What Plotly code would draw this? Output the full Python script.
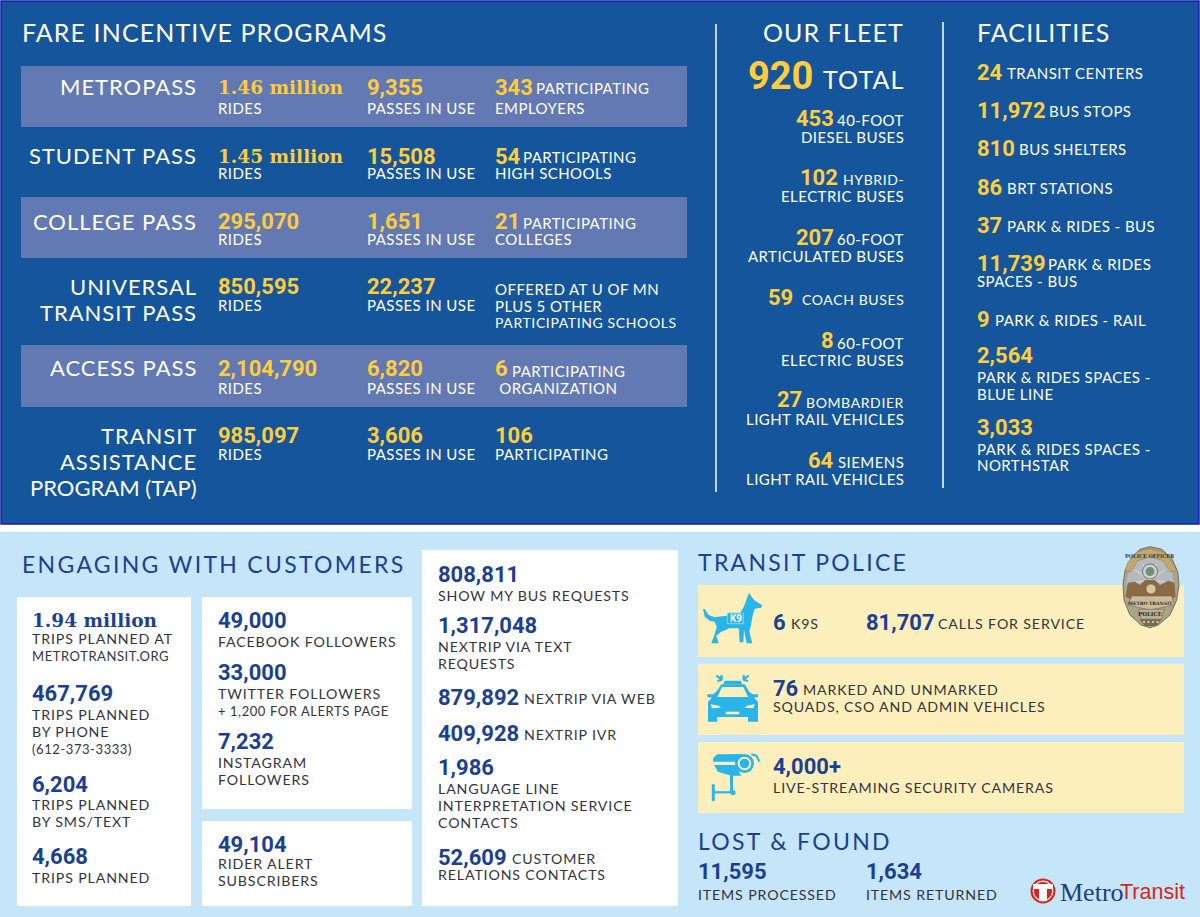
import plotly.graph_objects as go

# top panel text
fare_title = "FARE INCENTIVE PROGRAMS"
program_names = [["METROPASS"], ["STUDENT PASS"], ["COLLEGE PASS"],
                 ["UNIVERSAL", "TRANSIT PASS"], ["ACCESS PASS"],
                 ["TRANSIT", "ASSISTANCE", "PROGRAM (TAP)"]]
program_rides = ["1.46 million", "1.45 million", "295,070", "850,595", "2,104,790", "985,097"]
program_passes = ["9,355", "15,508", "1,651", "22,237", "6,820", "3,606"]
partner_counts = ["343", "54", "21", "", "6", "106"]
partner_first = ["PARTICIPATING", "PARTICIPATING", "PARTICIPATING", "OFFERED AT U OF MN", "PARTICIPATING", ""]
partner_rest = [["EMPLOYERS"], ["HIGH SCHOOLS"], ["COLLEGES"],
                ["PLUS 5 OTHER", "PARTICIPATING SCHOOLS"], [" ORGANIZATION"], ["PARTICIPATING"]]

fleet_total = "920"
fleet_counts = ["453", "102", "207", "59", "8", "27", "64"]
fleet_first = ["40-FOOT", "HYBRID-", "60-FOOT", "COACH BUSES", "60-FOOT", "BOMBARDIER", "SIEMENS"]
fleet_second = ["DIESEL BUSES", "ELECTRIC BUSES", "ARTICULATED BUSES", "", "ELECTRIC BUSES",
                "LIGHT RAIL VEHICLES", "LIGHT RAIL VEHICLES"]

facility_counts = ["24", "11,972", "810", "86", "37", "11,739", "9", "2,564", "3,033"]
facility_first = ["TRANSIT CENTERS", "BUS STOPS", "BUS SHELTERS", "BRT STATIONS", "PARK & RIDES - BUS",
                  "PARK & RIDES", "PARK & RIDES - RAIL", "", ""]
facility_rest = [[], [], [], [], [], ["SPACES - BUS"], [],
                 ["PARK & RIDES SPACES -", "BLUE LINE"], ["PARK & RIDES SPACES -", "NORTHSTAR"]]

# bottom panel text
trip_counts = ["1.94 million", "467,769", "6,204", "4,668"]
trip_labels = [["TRIPS PLANNED AT", "METROTRANSIT.ORG"], ["TRIPS PLANNED", "BY PHONE", "(612-373-3333)"],
               ["TRIPS PLANNED", "BY SMS/TEXT"], ["TRIPS PLANNED"]]
social_counts = ["49,000", "33,000", "7,232", "49,104"]
social_labels = [["FACEBOOK FOLLOWERS"], ["TWITTER FOLLOWERS", "+ 1,200 FOR ALERTS PAGE"],
                 ["INSTAGRAM", "FOLLOWERS"], ["RIDER ALERT", "SUBSCRIBERS"]]
request_counts = ["808,811", "1,317,048", "879,892", "409,928", "1,986", "52,609"]
request_inline = ["", "", "NEXTRIP VIA WEB", "NEXTRIP IVR", "", "CUSTOMER"]
request_labels = [["SHOW MY BUS REQUESTS"], ["NEXTRIP VIA TEXT", "REQUESTS"], [], [],
                  ["LANGUAGE LINE", "INTERPRETATION SERVICE", "CONTACTS"], ["RELATIONS CONTACTS"]]

NAVY = "#15559b"
STRIPE = "#6379b3"
SKY = "#c5e5f9"
CREAM = "#fcefbb"
ICON = "#29b5ea"
YELLOW = "#fdcd3d"
WHITE = "#ffffff"
DARK = "#1b3f94"
INK = "#33333d"
CLEAR = "rgba(0,0,0,0)"
LABEL = "Lato"
NUM = "Roboto"
SLAB = "DejaVu Serif"
W_LABEL = 15
D_LABEL = 14.2
W_HEAD = 25
D_HEAD = 23
# these few strings are set tighter in the artwork than their neighbours
TIGHT = ["PARTICIPATING SCHOOLS", "BOMBARDIER", "HYBRID-", "COACH BUSES", "METROTRANSIT.ORG",
         "+ 1,200 FOR ALERTS PAGE", "(612-373-3333)"]

annotations = []
shapes = []


def txt(x, y, s, size=W_LABEL, color=WHITE, font=LABEL, anchor="left", weight=400):
    if s == "":
        return
    if s in TIGHT:
        size = 14 if color == WHITE else 13
    if font == LABEL and size >= 22:
        y -= 1
    elif font == LABEL and size == D_LABEL:
        y -= 0.5
    annotations.append(dict(x=x, y=y, text=s, xref="x", yref="y", showarrow=False,
                            xanchor=anchor, yanchor="middle", borderpad=0, borderwidth=0,
                            font=dict(family=font, size=size, color=color, weight=weight)))


def num(x, y, s, color=YELLOW, size=22, anchor="left"):
    if "million" in s:
        txt(x, y, s, 18.5, color, SLAB, anchor, 700)
    else:
        txt(x, y, s, size, color, NUM, anchor, 700)


def rect(x0, y0, x1, y1, fill, line=None, width=0, layer="below"):
    shapes.append(dict(type="rect", x0=x0, y0=y0, x1=x1, y1=y1, xref="x", yref="y", layer=layer,
                       fillcolor=fill, line=dict(color=line or fill, width=width)))


def path(d, fill, line=None, width=0):
    shapes.append(dict(type="path", path=d, xref="x", yref="y", layer="above", fillcolor=fill,
                       line=dict(color=line or fill, width=width)))


def poly(pts, ox, oy, fill, line=None, width=0, closed=True):
    d = "M" + " L".join(f"{ox + a / 3:.1f},{oy + b / 3:.1f}" for a, b in pts)
    path(d + (" Z" if closed else ""), fill, line, width)


def circle(cx, cy, r, fill, line=None, width=0):
    shapes.append(dict(type="circle", x0=cx - r, y0=cy - r, x1=cx + r, y1=cy + r, xref="x", yref="y",
                       layer="above", fillcolor=fill, line=dict(color=line or fill, width=width)))


def vline(x, y0, y1, color=WHITE, width=1.5):
    shapes.append(dict(type="line", x0=x, x1=x, y0=y0, y1=y1, xref="x", yref="y", layer="below",
                       line=dict(color=color, width=width)))


# backgrounds
rect(1, 1, 1199, 524, NAVY, "#1a1ab0", 1.5)
rect(0, 532, 1200, 917, SKY)
for y0, y1 in [(66, 127), (197, 258), (345, 407)]:
    rect(21, y0, 687, y1, STRIPE)
vline(716, 24, 492)
vline(943, 22, 488)
for box in [(17, 597, 191, 906), (202, 597, 412, 809), (202, 821, 412, 906), (422, 550, 678, 906)]:
    rect(*box, WHITE)
for y0, y1 in [(585, 657), (664, 735), (742, 813)]:
    rect(698, y0, 1184, y1, CREAM)

# fare programs
txt(22, 33, fare_title, W_HEAD)
name_y = [[87], [156], [222], [287, 313], [368], [436, 462, 488]]
num_y = [87, 156, 221, 286, 368, 435]
sub_y = [108, 173, 239, 305, 388, 454]
first_x = [536, 523, 523, 495, 512, 495]
first_y = [88, 157, 223, 289, 371, 435]
rest_y = [[108], [173], [239], [306, 322], [388], [454]]
for i in range(len(program_names)):
    for s, y in zip(program_names[i], name_y[i]):
        txt(197, y, s, 22 if "TAP" not in s else 22.01, anchor="right")
    num(218, num_y[i], program_rides[i])
    txt(218, sub_y[i], "RIDES")
    num(367, num_y[i], program_passes[i])
    txt(367, sub_y[i], "PASSES IN USE")
    num(495, num_y[i], partner_counts[i])
    txt(first_x[i], first_y[i], partner_first[i])
    for s, y in zip(partner_rest[i], rest_y[i]):
        txt(495, y, s)

# fleet
txt(904, 33, "OUR FLEET", W_HEAD, anchor="right")
txt(748, 76, fleet_total, 38, YELLOW, NUM, weight=700)
txt(904, 80, "TOTAL", W_HEAD, anchor="right")
fleet_y = [119, 178, 238, 298, 342, 401, 461]
fleet_num_x = [834, 838, 834, 793, 834, 802, 834]
fleet_num_y = [118, 177, 237, 297, 340, 399, 460]
for i in range(len(fleet_counts)):
    num(fleet_num_x[i], fleet_num_y[i], fleet_counts[i], anchor="right")
    txt(904, fleet_y[i] + 1, fleet_first[i], anchor="right")
    txt(904, fleet_y[i] + 18, fleet_second[i], anchor="right")

# facilities
txt(977, 33, "FACILITIES", W_HEAD)
facility_y = [72, 110, 148, 187, 225, 263, 319, 355, 427]
facility_x = [1007, 1049, 1019, 1007, 1007, 1048, 995, 0, 0]
rest_y = [[], [], [], [], [], [281], [], [377, 394], [449, 465]]
for i in range(len(facility_counts)):
    num(977, facility_y[i], facility_counts[i])
    txt(facility_x[i], facility_y[i] + 1, facility_first[i])
    for s, y in zip(facility_rest[i], rest_y[i]):
        txt(977, y, s)

# engaging with customers
txt(22, 565, "ENGAGING WITH CUSTOMERS", D_HEAD, DARK)
trip_y = [620, 693, 784, 856]
trip_sub = [[639, 656], [715, 732, 749], [805, 822], [878]]
for i in range(len(trip_counts)):
    num(32, trip_y[i], trip_counts[i], DARK)
    for s, y in zip(trip_labels[i], trip_sub[i]):
        txt(32, y, s, D_LABEL, INK)
social_y = [620, 672, 741, 844]
social_sub = [[642], [694, 711], [763, 780], [864, 881]]
for i in range(len(social_counts)):
    num(218, social_y[i], social_counts[i], DARK)
    for s, y in zip(social_labels[i], social_sub[i]):
        txt(218, y, s, D_LABEL, INK)
request_y = [574, 625, 697, 733, 767, 857]
request_x = [0, 0, 524, 524, 0, 512]
request_sub = [[596], [647, 664], [], [], [789, 806, 823], [875]]
for i in range(len(request_counts)):
    num(438, request_y[i], request_counts[i], DARK)
    txt(request_x[i], request_y[i] + 2, request_inline[i], D_LABEL, INK)
    for s, y in zip(request_labels[i], request_sub[i]):
        txt(438, y, s, D_LABEL, INK)

# transit police
txt(698, 563, "TRANSIT POLICE", D_HEAD, DARK)
num(773, 622, "6", DARK)
txt(791, 624, "K9S", D_LABEL, INK)
num(866, 622, "81,707", DARK)
txt(938, 624, "CALLS FOR SERVICE", D_LABEL, INK)
num(773, 688, "76", DARK)
txt(803, 690, "MARKED AND UNMARKED", D_LABEL, INK)
txt(773, 707, "SQUADS, CSO AND ADMIN VEHICLES", D_LABEL, INK)
num(773, 766, "4,000+", DARK)
txt(773, 788, "LIVE-STREAMING SECURITY CAMERAS", D_LABEL, INK)
txt(698, 842, "LOST & FOUND", D_HEAD, DARK)
num(698, 871, "11,595", DARK)
num(866, 871, "1,634", DARK)
txt(698, 895, "ITEMS PROCESSED", D_LABEL, INK)
txt(866, 895, "ITEMS RETURNED", D_LABEL, INK)

OX, OY = 698, 585
dog = [(15, 72), (20, 72), (32, 90), (50, 97), (85, 92), (125, 86), (138, 64), (153, 23), (163, 38), (172, 48),
       (192, 60), (190, 68), (170, 71), (165, 88), (160, 115), (154, 140), (163, 175), (146, 175), (138, 135),
       (136, 172), (125, 172), (122, 130), (95, 130), (70, 140), (55, 152), (62, 175), (40, 175), (50, 148),
       (56, 125), (50, 110), (35, 107), (20, 95)]
poly(dog, OX, OY, ICON)
poly([(88, 84), (136, 84), (136, 116), (88, 116)], OX, OY, ICON, "#8fd6f2", 1)
txt(735.5, 618, "K9", 10, WHITE, NUM, "center", 700)

poly([(80, 287), (128, 287), (132, 298), (76, 298)], OX, OY, ICON)
poly([(70, 298), (140, 298), (155, 322), (165, 328), (180, 328), (180, 336), (168, 338), (180, 350), (180, 410),
      (150, 410), (150, 396), (58, 396), (58, 410), (30, 410), (30, 350), (42, 338), (28, 336), (28, 328),
      (45, 328), (55, 320)], OX, OY, ICON)
poly([(72, 306), (136, 306), (150, 336), (58, 336)], OX, OY, CREAM)
poly([(38, 358), (62, 362), (68, 368), (42, 370)], OX, OY, CREAM)
poly([(170, 358), (146, 362), (140, 368), (166, 370)], OX, OY, CREAM)
poly([(83, 380), (124, 380), (124, 388), (83, 388)], OX, OY, CREAM)
for seg in [[(72, 284), (55, 272)], [(72, 284), (70, 270)], [(72, 284), (58, 288)],
            [(136, 284), (152, 272)], [(136, 284), (138, 270)], [(136, 284), (150, 288)]]:
    poly(seg, OX, OY, CLEAR, ICON, 2.2, closed=False)

poly([(45, 530), (46, 518), (58, 508), (135, 507), (118, 530)], OX, OY, ICON)
poly([(48, 540), (112, 540), (130, 572), (100, 572), (60, 560)], OX, OY, ICON)
circle(744.5, 763.5, 9.5, ICON)
circle(744.5, 763.5, 6.8, CREAM)
circle(744.5, 763.5, 4.8, ICON)
poly([(160, 508), (175, 512), (185, 530)], OX, OY, CLEAR, ICON, 2, closed=False)
poly([(96, 570), (105, 570), (105, 622), (96, 622)], OX, OY, ICON)
poly([(48, 622), (105, 622)], OX, OY, CLEAR, ICON, 2.2, closed=False)
poly([(46, 598), (46, 648)], OX, OY, CLEAR, ICON, 3, closed=False)
circle(733, 792.5, 2.6, ICON)

BX, BY = 1115, 540
poly([(105, 20), (140, 28), (170, 55), (188, 95), (192, 135), (185, 180), (165, 225), (130, 255), (105, 263),
      (78, 255), (45, 225), (27, 180), (24, 135), (30, 92), (50, 52), (75, 28)], BX, BY, "#a8a58f", "#7a6d52", 1)
poly([(40, 100), (70, 55), (105, 42), (140, 55), (172, 100), (178, 135), (32, 135)], BX, BY, "#b4babd")
for tip in [(40, 130), (60, 90), (85, 72), (125, 72), (150, 90), (172, 130)]:
    poly([(105, 120), tip], BX, BY, CLEAR, "#e6e8e8", 0.8, closed=False)
poly([(30, 92), (38, 68), (65, 36), (105, 26), (145, 36), (172, 68), (185, 92), (165, 95), (145, 62), (105, 50),
      (68, 62), (48, 95)], BX, BY, "#c4a871", "#8a734a", 0.5)
circle(1150, 571.5, 7.5, "#cfd3d4", "#5b5b52", 0.8)
circle(1150, 571.5, 4.5, "#6f8f7a")
poly([(38, 128), (60, 125), (75, 135), (90, 120), (120, 120), (135, 135), (160, 122), (178, 128), (182, 170),
      (165, 180), (50, 180), (32, 170)], BX, BY, "#8c6a43")
circle(1151, 589, 5, "#d6c8a6", "#6d5a3c", 0.6)
poly([(50, 168), (170, 168), (178, 195), (105, 210), (40, 195)], BX, BY, "#c9bc98", "#6d5a3c", 0.5)
poly([(70, 208), (148, 208), (140, 238), (80, 238)], BX, BY, "#b9b08f", "#6d5a3c", 0.5)
poly([(72, 238), (140, 238), (125, 258), (90, 258)], BX, BY, "#74704f")
for sx in [1144, 1148.5, 1153, 1157.5]:
    circle(sx, 622, 1, "#e5dfc6")
txt(1150, 556, "POLICE OFFICER", 5, "#3c3a30", SLAB, "center", 700)
txt(1150, 603, "METRO TRANSIT", 4.5, "#2a2a24", SLAB, "center", 700)
txt(1150, 614, "POLICE", 5.5, "#2a2a24", SLAB, "center", 700)

# logo
circle(1043, 891, 12.5, "#d9261c")
circle(1043, 891, 10.4, WHITE)
circle(1043, 891, 9.2, "#d9261c")
path("M1033,884 L1053,884 L1053,889 L1047,889 L1047,901 L1039,901 L1039,889 L1033,889 Z", WHITE)
txt(1060, 892, "Metro", 26, "#1f3c88", "Liberation Serif")
txt(1120, 892, "Transit", 21.5, "#d9261c", "Liberation Sans")

fig = go.Figure()
fig.update_xaxes(range=[0, 1200], visible=False, fixedrange=True)
fig.update_yaxes(range=[917, 0], visible=False, fixedrange=True)
fig.update_layout(width=1200, height=917, margin=dict(l=0, r=0, t=0, b=0), paper_bgcolor=WHITE,
                  plot_bgcolor=WHITE, showlegend=False, shapes=shapes, annotations=annotations)

# plotly fonts have no tracking, the artwork is letterspaced so add it by css.
# plotly caches text boxes by style, so change the family string to force a new measure
tracking = """
document.body.style.margin = '0';
var st = document.createElement('style');
st.textContent = `
.annotation-text[style*="Lato"] {letter-spacing: .044em;}
.annotation-text[style*="Lato"][style*="font-size: 15px"] {letter-spacing: .03em;}
.annotation-text[style*="Lato"][style*="font-size: 14.2px"] {letter-spacing: .06em;}
.annotation-text[style*="Lato"][style*="font-size: 23px"] {letter-spacing: .1em;}
.annotation-text[style*="Lato"][style*="font-size: 22.01px"] {letter-spacing: 0;}
`;
document.head.appendChild(st);
var gd = document.getElementById('{plot_id}');
var notes = gd.layout.annotations.map(function (a) {
    var b = JSON.parse(JSON.stringify(a));
    if (b.font.family === 'Lato') { b.font.family = 'Lato, sans-serif'; }
    return b;
});
Plotly.relayout(gd, {annotations: notes});
"""
fig.write_html("out.html", post_script=tracking, config={"displayModeBar": False})
